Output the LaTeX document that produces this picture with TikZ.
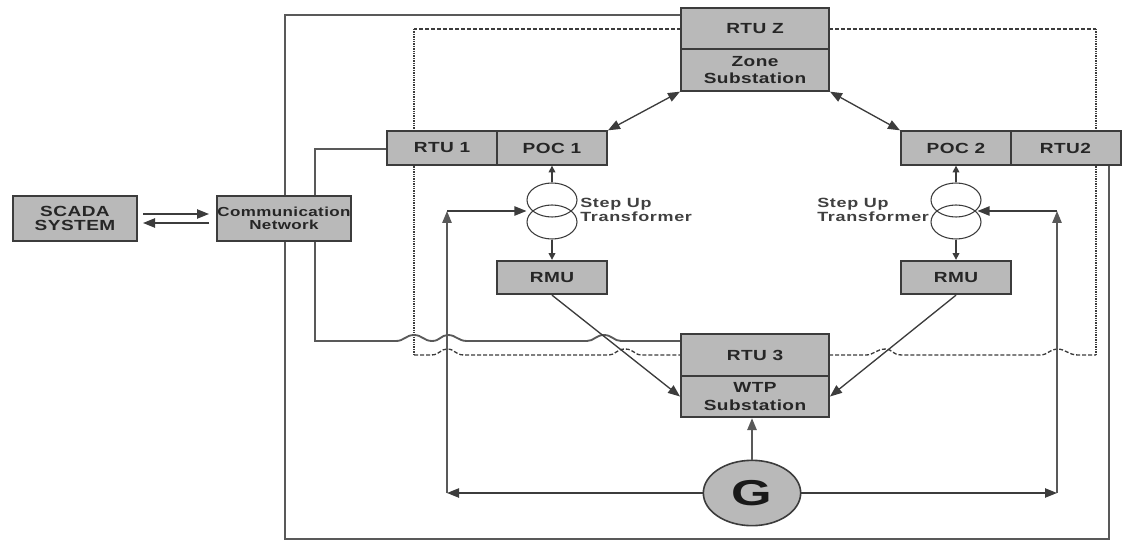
\documentclass[tikz,border=0pt]{standalone}
\usepackage{fontspec}
\setmainfont{Liberation Sans}
\newfontfamily\boxfont[FakeStretch=1.3,LetterSpace=3]{Liberation Sans}
\newfontfamily\lblfont[FakeStretch=1.35,LetterSpace=5]{Liberation Sans}
\newfontfamily\genfont[FakeStretch=1.45]{Liberation Sans}
\usetikzlibrary{arrows.meta,shapes.geometric}
\definecolor{boxgray}{HTML}{B9B9B9}
\definecolor{linegray}{HTML}{3C3C3C}
\tikzset{
  x=0.75pt,y=-0.75pt,
  blk/.style={draw=linegray,line width=1.5pt,fill=boxgray,inner sep=0pt,align=center,font=\boxfont\bfseries\fontsize{11pt}{13pt}\selectfont,text=black!85},
  wide/.style={blk,minimum width=82.5pt,minimum height=25pt},
  big/.style={blk,minimum width=111pt,minimum height=31pt},
  main/.style={draw=linegray!85,line width=1.4pt},
  thin/.style={draw=linegray,line width=1pt},
  tip/.style={-{Triangle[length=9pt,width=7pt]}},
  both/.style={{Triangle[length=9pt,width=7pt]}-{Triangle[length=9pt,width=7pt]}},
  dashline/.style={draw=linegray,line width=1pt,dash pattern=on 3pt off 1.5pt},
  dotline/.style={draw=linegray,line width=1.5pt,dash pattern=on 1pt off 0.8pt},
  coil/.style={draw=linegray,line width=0.8pt,ellipse,minimum width=37.5pt,minimum height=25.5pt,inner sep=0pt},
  lbl/.style={font=\lblfont\bfseries\fontsize{10pt}{11pt}\selectfont,text=black!75,align=left,inner sep=0pt},
}
\begin{document}
\begin{tikzpicture}
\useasboundingbox (0,0) rectangle (1125,549);
% free corner points
\coordinate (oTL) at (285,15); \coordinate (oBL) at (285,539); \coordinate (oBR) at (1109,539);
\coordinate (dTL) at (414,29); \coordinate (dTR) at (1096,29);
\coordinate (dBL) at (414,355); \coordinate (dBR) at (1096,355);
\coordinate (sTL) at (315,149); \coordinate (sBL) at (315,341);
\coordinate (gL) at (447,493); \coordinate (gR) at (1057,493);
\coordinate (gLt) at (447,211); \coordinate (gRt) at (1057,211);
% wires behind boxes
\draw[main] (681,15) -- (oTL) -- (oBL) -- (oBR) -- (1109,164);
\draw[dashline] (681,29) -- (dTL);
\draw[dashline] (829,29) -- (dTR);
\draw[dotline] (dTL) -- (414,131);
\draw[dotline] (dTR) -- (1096,131);
\draw[dotline] (414,164) -- (dBL);
\draw[dotline] (1096,164) -- (dBR);
\draw[dashline] (dBL) -- (431,355) .. controls (440,355) and (440,349) .. (447,349) .. controls (455,349) and (455,355) .. (464,355) -- (609,355) .. controls (616,355) and (616,349) .. (625,349) .. controls (634,349) and (634,355) .. (642,355) -- (681,355);
\draw[dashline] (829,355) -- (866,355) .. controls (874,355) and (876,349) .. (886,349) .. controls (892,349) and (892,355) .. (902,355) -- (1040,355) .. controls (1048,355) and (1050,349) .. (1057,349) .. controls (1066,349) and (1068,355) .. (1078,355) -- (dBR);
\draw[main] (387,149) -- (sTL) -- (315,196);
\draw[main] (315,241) -- (sBL) -- (396,341) .. controls (404,341) and (406,335) .. (414,335) .. controls (422,335) and (424,341) .. (432,341) .. controls (440,341) and (441,335) .. (448,335) .. controls (456,335) and (458,341) .. (467,341) -- (587,341) .. controls (594,341) and (596,335) .. (604,335) .. controls (612,335) and (614,341) .. (621,341) -- (681,341);
% boxes
\node[blk,minimum width=92.5pt,minimum height=34pt,font=\boxfont\bfseries\fontsize{11pt}{11pt}\selectfont] (scada) at (75,218.5) {SCADA\\SYSTEM};
\node[blk,minimum width=101pt,minimum height=34pt,font=\boxfont\bfseries\fontsize{9.8pt}{10pt}\selectfont] (comm) at (284,218.5) {Communication\\Network};
\node[big] (rtuz) at (755,28.5) {RTU Z};
\node[big] (zone) at (755,70) {Zone\\Substation};
\node[wide] (rtu1) at (442,148) {RTU 1};
\node[wide] (poc1) at (552,148) {POC 1};
\node[wide] (poc2) at (956,148) {POC 2};
\node[wide] (rtu2) at (1065.5,148) {RTU2};
\node[wide] (rmu1) at (552,277.5) {RMU};
\node[wide] (rmu2) at (956,277.5) {RMU};
\node[big] (rtu3) at (755,355) {RTU 3};
\node[big] (wtp) at (755,396.5) {WTP\\Substation};
\node[draw=linegray,line width=1.2pt,fill=boxgray,ellipse,minimum width=73pt,minimum height=49pt,inner sep=0pt,font=\genfont\bfseries\fontsize{27pt}{27pt}\selectfont,text=black!90] (gen) at (752,493) {G};
% transformer coils
\node[coil] (t1a) at (552,200) {};
\node[coil] (t1b) at (552,222) {};
\node[coil] (t2a) at (956,200) {};
\node[coil] (t2b) at (956,222) {};
\node[lbl,anchor=west] (l1) at (580,210) {Step Up\\Transformer};
\node[lbl,anchor=west] (l2) at (817,210) {Step Up\\Transformer};
% connectors
\draw[thin,-{Triangle[length=5pt,width=5pt]}] (t1a.north) -- (poc1.south);
\draw[thin,-{Triangle[length=5pt,width=5pt]}] (t1b.south) -- (rmu1.north);
\draw[thin,-{Triangle[length=5pt,width=5pt]}] (t2a.north) -- (poc2.south);
\draw[thin,-{Triangle[length=5pt,width=5pt]}] (t2b.south) -- (rmu2.north);
\draw[thin,both] (poc1.north east) -- (zone.south west);
\draw[thin,both] (poc2.north west) -- (zone.south east);
\draw[thin,tip] (rmu1.south) -- (wtp.west);
\draw[thin,tip] (rmu2.south) -- (wtp.east);
\draw[main,tip] (gen.north) -- (wtp.south -| gen.north);
\draw[thin,tip] (gen.west) -- (gL);
\draw[thin,tip] (gen.east) -- (gR);
\draw[main,tip] (gL) -- (gLt);
\draw[main,tip] (gR) -- (gRt);
\draw[thin,tip] (gLt) -- (t1a.west |- gLt);
\draw[thin,tip] (gRt) -- ([xshift=-3pt]t2a.east |- gRt);
\coordinate (sa) at (143,214); \coordinate (sb) at (209,214); \coordinate (sc) at (209,223); \coordinate (sd) at (143,223);
\draw[thin,tip] (sa) -- (sb);
\draw[thin,tip] (sc) -- (sd);
\end{tikzpicture}
\end{document}
